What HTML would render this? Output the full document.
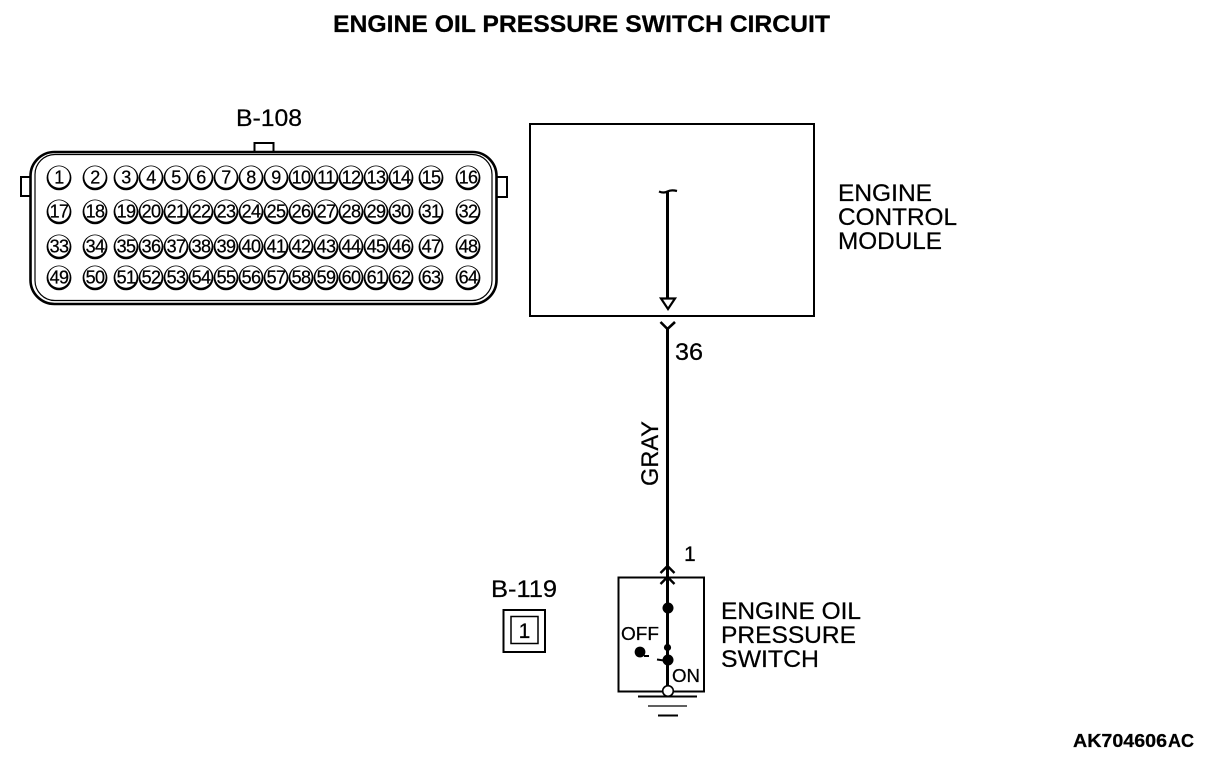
<!DOCTYPE html>
<html><head><meta charset="utf-8"><title>Engine Oil Pressure Switch Circuit</title>
<style>
html,body{margin:0;padding:0;background:#fff;width:1216px;height:762px;overflow:hidden}
svg{display:block}
text{font-family:"Liberation Sans",sans-serif;fill:#000;stroke:#000;stroke-width:.25px}
.p text{font-size:18px;text-anchor:middle;letter-spacing:-.6px}
.l{font-size:24px}
</style></head><body>
<svg width="1216" height="762" viewBox="0 0 1216 762" xmlns="http://www.w3.org/2000/svg">
<defs>
<g id="c"><circle cx="0" cy="0.9" r="12.4" fill="#000"/><circle cx="0" cy="0" r="10.7" fill="#fff"/></g>
</defs>
<text x="333" y="32" font-size="24" font-weight="bold" textLength="497" lengthAdjust="spacingAndGlyphs">ENGINE OIL PRESSURE SWITCH CIRCUIT</text>
<text class="l" x="236" y="126" textLength="66" lengthAdjust="spacingAndGlyphs">B-108</text>

<g fill="#fff" stroke="#000" stroke-width="2">
<rect x="254.500" y="143" width="19" height="10"/>
<rect x="21" y="177" width="12" height="19"/>
<rect x="495" y="177" width="12" height="20"/>
</g>
<rect x="30.500" y="152" width="466" height="152" rx="24" ry="24" fill="#fff" stroke="#000" stroke-width="2.600"/>
<rect x="35" y="154.500" width="457" height="146" rx="20" ry="20" fill="none" stroke="#000" stroke-width="1.200"/>

<g>
<use href="#c" x="59" y="177"/><use href="#c" x="95" y="177"/><use href="#c" x="126" y="177"/><use href="#c" x="151" y="177"/><use href="#c" x="176" y="177"/><use href="#c" x="201" y="177"/><use href="#c" x="226" y="177"/><use href="#c" x="251" y="177"/><use href="#c" x="276" y="177"/><use href="#c" x="301" y="177"/><use href="#c" x="326" y="177"/><use href="#c" x="351" y="177"/><use href="#c" x="376" y="177"/><use href="#c" x="401" y="177"/><use href="#c" x="431" y="177"/><use href="#c" x="468" y="177"/>
<use href="#c" x="59" y="211"/><use href="#c" x="95" y="211"/><use href="#c" x="126" y="211"/><use href="#c" x="151" y="211"/><use href="#c" x="176" y="211"/><use href="#c" x="201" y="211"/><use href="#c" x="226" y="211"/><use href="#c" x="251" y="211"/><use href="#c" x="276" y="211"/><use href="#c" x="301" y="211"/><use href="#c" x="326" y="211"/><use href="#c" x="351" y="211"/><use href="#c" x="376" y="211"/><use href="#c" x="401" y="211"/><use href="#c" x="431" y="211"/><use href="#c" x="468" y="211"/>
<use href="#c" x="59" y="246"/><use href="#c" x="95" y="246"/><use href="#c" x="126" y="246"/><use href="#c" x="151" y="246"/><use href="#c" x="176" y="246"/><use href="#c" x="201" y="246"/><use href="#c" x="226" y="246"/><use href="#c" x="251" y="246"/><use href="#c" x="276" y="246"/><use href="#c" x="301" y="246"/><use href="#c" x="326" y="246"/><use href="#c" x="351" y="246"/><use href="#c" x="376" y="246"/><use href="#c" x="401" y="246"/><use href="#c" x="431" y="246"/><use href="#c" x="468" y="246"/>
<use href="#c" x="59" y="277"/><use href="#c" x="95" y="277"/><use href="#c" x="126" y="277"/><use href="#c" x="151" y="277"/><use href="#c" x="176" y="277"/><use href="#c" x="201" y="277"/><use href="#c" x="226" y="277"/><use href="#c" x="251" y="277"/><use href="#c" x="276" y="277"/><use href="#c" x="301" y="277"/><use href="#c" x="326" y="277"/><use href="#c" x="351" y="277"/><use href="#c" x="376" y="277"/><use href="#c" x="401" y="277"/><use href="#c" x="431" y="277"/><use href="#c" x="468" y="277"/>
</g>
<g class="p">
<text x="59" y="183.500">1</text><text x="95" y="183.500">2</text><text x="126" y="183.500">3</text><text x="151" y="183.500">4</text><text x="176" y="183.500">5</text><text x="201" y="183.500">6</text><text x="226" y="183.500">7</text><text x="251" y="183.500">8</text><text x="276" y="183.500">9</text><text x="301" y="183.500">10</text><text x="326" y="183.500">11</text><text x="351" y="183.500">12</text><text x="376" y="183.500">13</text><text x="401" y="183.500">14</text><text x="431" y="183.500">15</text><text x="468" y="183.500">16</text>
<text x="59" y="217.500">17</text><text x="95" y="217.500">18</text><text x="126" y="217.500">19</text><text x="151" y="217.500">20</text><text x="176" y="217.500">21</text><text x="201" y="217.500">22</text><text x="226" y="217.500">23</text><text x="251" y="217.500">24</text><text x="276" y="217.500">25</text><text x="301" y="217.500">26</text><text x="326" y="217.500">27</text><text x="351" y="217.500">28</text><text x="376" y="217.500">29</text><text x="401" y="217.500">30</text><text x="431" y="217.500">31</text><text x="468" y="217.500">32</text>
<text x="59" y="252.500">33</text><text x="95" y="252.500">34</text><text x="126" y="252.500">35</text><text x="151" y="252.500">36</text><text x="176" y="252.500">37</text><text x="201" y="252.500">38</text><text x="226" y="252.500">39</text><text x="251" y="252.500">40</text><text x="276" y="252.500">41</text><text x="301" y="252.500">42</text><text x="326" y="252.500">43</text><text x="351" y="252.500">44</text><text x="376" y="252.500">45</text><text x="401" y="252.500">46</text><text x="431" y="252.500">47</text><text x="468" y="252.500">48</text>
<text x="59" y="283.500">49</text><text x="95" y="283.500">50</text><text x="126" y="283.500">51</text><text x="151" y="283.500">52</text><text x="176" y="283.500">53</text><text x="201" y="283.500">54</text><text x="226" y="283.500">55</text><text x="251" y="283.500">56</text><text x="276" y="283.500">57</text><text x="301" y="283.500">58</text><text x="326" y="283.500">59</text><text x="351" y="283.500">60</text><text x="376" y="283.500">61</text><text x="401" y="283.500">62</text><text x="431" y="283.500">63</text><text x="468" y="283.500">64</text>
</g>

<rect x="530" y="124" width="284" height="192" fill="none" stroke="#000" stroke-width="2"/>
<path d="M659 191.500 Q664 193.500 667.500 191.500 Q671 189.500 677 191" fill="none" stroke="#000" stroke-width="2.200"/>
<path d="M667.500 191V298" stroke="#000" stroke-width="3" fill="none"/>
<path d="M661 298.500H675L668 309Z" fill="#fff" stroke="#000" stroke-width="2.200"/>
<path d="M660.500 322L667.500 329L675 322" fill="none" stroke="#000" stroke-width="2.600"/>
<path d="M667.500 329V686" stroke="#000" stroke-width="3" fill="none"/>
<text class="l" x="675" y="360" textLength="28" lengthAdjust="spacingAndGlyphs">36</text>
<text class="l" transform="translate(658 486) rotate(-90)" textLength="65" lengthAdjust="spacingAndGlyphs">GRAY</text>
<text x="684" y="561" font-size="21">1</text>

<text class="l" x="838" y="201" textLength="94" lengthAdjust="spacingAndGlyphs">ENGINE</text>
<text class="l" x="838" y="225" textLength="119" lengthAdjust="spacingAndGlyphs">CONTROL</text>
<text class="l" x="838" y="249" textLength="104" lengthAdjust="spacingAndGlyphs">MODULE</text>

<text class="l" x="491" y="597" textLength="66" lengthAdjust="spacingAndGlyphs">B-119</text>
<rect x="503.500" y="610" width="41.500" height="42" fill="none" stroke="#000" stroke-width="2"/>
<rect x="511" y="616.500" width="27" height="27" fill="none" stroke="#000" stroke-width="1.500"/>
<text x="524.500" y="638" font-size="21" text-anchor="middle">1</text>

<rect x="618.500" y="577.500" width="85.500" height="114" fill="none" stroke="#000" stroke-width="2"/>
<path d="M660.500 573L667.500 566L674.500 573M660.500 584L667.500 577L674.500 584" fill="none" stroke="#000" stroke-width="2.400"/>
<circle cx="668" cy="608" r="5.500" fill="#000"/>
<circle cx="667.500" cy="647.500" r="3.600" fill="#000"/>
<circle cx="668" cy="660" r="5.500" fill="#000"/>
<circle cx="640" cy="652" r="5.400" fill="#000"/>
<path d="M644 656H649M657 659.500L664 660.500" stroke="#000" stroke-width="2" fill="none"/>
<text x="621" y="640" font-size="18" textLength="38" lengthAdjust="spacingAndGlyphs">OFF</text>
<text x="672" y="682" font-size="18" textLength="28" lengthAdjust="spacingAndGlyphs">ON</text>
<path d="M638 696.500H697" stroke="#000" stroke-width="2"/>
<path d="M648 706H687" stroke="#000" stroke-width="1.200"/>
<path d="M658 715.500H678" stroke="#000" stroke-width="2"/>
<circle cx="668" cy="691" r="5.300" fill="#fff" stroke="#000" stroke-width="1.600"/>

<text class="l" x="721" y="619" textLength="140" lengthAdjust="spacingAndGlyphs">ENGINE OIL</text>
<text class="l" x="721" y="643" textLength="135" lengthAdjust="spacingAndGlyphs">PRESSURE</text>
<text class="l" x="721" y="667" textLength="98" lengthAdjust="spacingAndGlyphs">SWITCH</text>

<text x="1073" y="747" font-size="18" font-weight="bold" textLength="94" lengthAdjust="spacingAndGlyphs">AK704606</text>
<text x="1168" y="747" font-size="18" font-weight="bold" textLength="26" lengthAdjust="spacingAndGlyphs">AC</text>
</svg>
</body></html>
